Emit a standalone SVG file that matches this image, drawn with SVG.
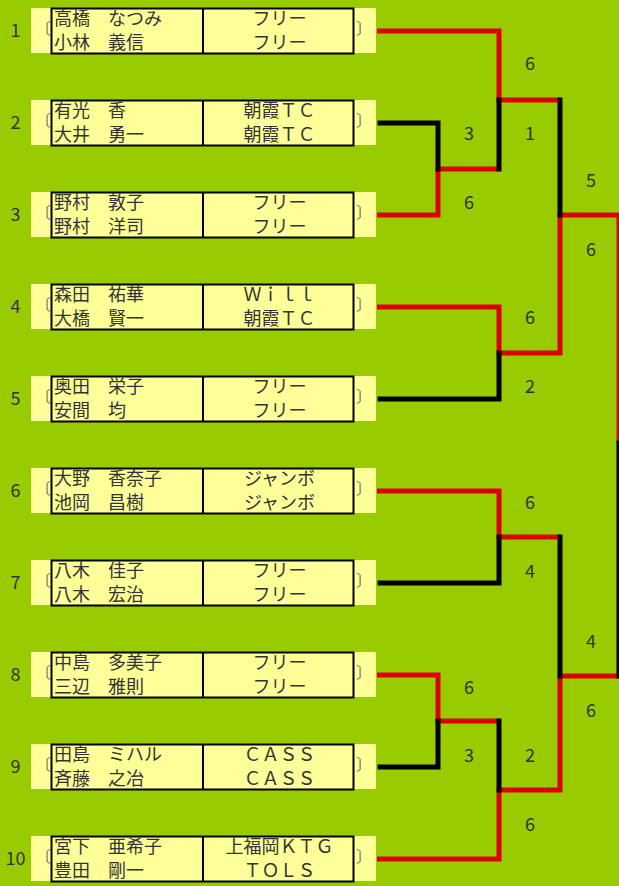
<svg xmlns="http://www.w3.org/2000/svg" width="619" height="886" viewBox="0 0 619 886">
<style>
.bg{fill:#99CC00}
.cell{fill:#FFFF99}
.box{fill:none;stroke:#000;stroke-width:2}
.div{stroke:#000;stroke-width:2}
.t{font-family:"Noto Sans CJK JP","Noto Sans",sans-serif;font-size:18px;fill:#333}
.c{text-anchor:middle}
.br{font-family:"Noto Sans CJK JP",sans-serif;font-size:16px;fill:#777}
.r{fill:none;stroke:#DD0000;stroke-width:5}
.k{fill:none;stroke:#000;stroke-width:5;stroke-linecap:square}
.s{font-family:"Noto Sans CJK JP","Noto Sans",sans-serif;font-size:18px;fill:#333;text-anchor:middle}
</style>
<defs>
<g id="frame">
<rect class="cell" x="31" y="0" width="345" height="45"/>
<rect class="box" x="51.5" y="0.5" width="302" height="45"/>
<line class="div" x1="203" y1="0" x2="203" y2="46"/>
<text class="br" x="35" y="26">〔</text>
<text class="br" x="356" y="26">〕</text>
</g>
</defs>
<rect class="bg" x="0" y="0" width="619" height="886"/>
<g id="connectors">
<path class="r" d="M377,31 H499 V100 H560"/>
<path class="r" d="M377,215 H438 V169 H499"/>
<path class="r" d="M377,307 H499 V353 H560 V215 H619 V443"/>
<path class="r" d="M377,491 H499 V537 H560"/>
<path class="r" d="M377,675 H438 V721 H499"/>
<path class="r" d="M377,859 H499 V790 H560 V676 H619"/>
<path class="k" d="M380,123 H438 V169"/>
<path class="k" d="M499,100 V169"/>
<path class="k" d="M560,100 V215"/>
<path class="k" d="M380,399 H499 V353"/>
<path class="k" d="M380,583 H499 V537"/>
<path class="k" d="M380,767 H438 V721"/>
<path class="k" d="M499,721 V790"/>
<path class="k" d="M560,537 V676"/>
<path class="k" d="M619,443 V676"/>
</g>
<g id="scores">
<text class="s" x="530" y="69.5">6</text>
<text class="s" x="469" y="139.5">3</text>
<text class="s" x="530" y="139.5">1</text>
<text class="s" x="469" y="209">6</text>
<text class="s" x="591" y="186.5">5</text>
<text class="s" x="591" y="255.5">6</text>
<text class="s" x="530" y="323.5">6</text>
<text class="s" x="530" y="392.5">2</text>
<text class="s" x="530" y="508.5">6</text>
<text class="s" x="530" y="577.5">4</text>
<text class="s" x="591" y="647.5">4</text>
<text class="s" x="591" y="716.5">6</text>
<text class="s" x="469" y="693.5">6</text>
<text class="s" x="469" y="761.5">3</text>
<text class="s" x="530" y="761.5">2</text>
<text class="s" x="530" y="830.5">6</text>
</g>
<g id="p1" transform="translate(0,8)">
<use href="#frame"/>
<text class="t c" x="15.5" y="28.5">1</text>
<text class="t" x="54" y="17">高橋　なつみ</text><text class="t" x="54" y="41">小林　義信</text>
<text class="t c" x="279.5" y="17">フリー</text><text class="t c" x="279.5" y="41">フリー</text>
</g>
<g id="p2" transform="translate(0,100)">
<use href="#frame"/>
<text class="t c" x="15.5" y="28.5">2</text>
<text class="t" x="54" y="17">有光　香</text><text class="t" x="54" y="41">大井　勇一</text>
<text class="t c" x="279.5" y="17">朝霞ＴＣ</text><text class="t c" x="279.5" y="41">朝霞ＴＣ</text>
</g>
<g id="p3" transform="translate(0,192)">
<use href="#frame"/>
<text class="t c" x="15.5" y="28.5">3</text>
<text class="t" x="54" y="17">野村　敦子</text><text class="t" x="54" y="41">野村　洋司</text>
<text class="t c" x="279.5" y="17">フリー</text><text class="t c" x="279.5" y="41">フリー</text>
</g>
<g id="p4" transform="translate(0,284)">
<use href="#frame"/>
<text class="t c" x="15.5" y="28.5">4</text>
<text class="t" x="54" y="17">森田　祐華</text><text class="t" x="54" y="41">大橋　賢一</text>
<text class="t c" x="279.5" y="17">Ｗｉｌｌ</text><text class="t c" x="279.5" y="41">朝霞ＴＣ</text>
</g>
<g id="p5" transform="translate(0,376)">
<use href="#frame"/>
<text class="t c" x="15.5" y="28.5">5</text>
<text class="t" x="54" y="17">奥田　栄子</text><text class="t" x="54" y="41">安間　均</text>
<text class="t c" x="279.5" y="17">フリー</text><text class="t c" x="279.5" y="41">フリー</text>
</g>
<g id="p6" transform="translate(0,468)">
<use href="#frame"/>
<text class="t c" x="15.5" y="28.5">6</text>
<text class="t" x="54" y="17">大野　香奈子</text><text class="t" x="54" y="41">池岡　昌樹</text>
<text class="t c" x="279.5" y="17">ジャンボ</text><text class="t c" x="279.5" y="41">ジャンボ</text>
</g>
<g id="p7" transform="translate(0,560)">
<use href="#frame"/>
<text class="t c" x="15.5" y="28.5">7</text>
<text class="t" x="54" y="17">八木　佳子</text><text class="t" x="54" y="41">八木　宏治</text>
<text class="t c" x="279.5" y="17">フリー</text><text class="t c" x="279.5" y="41">フリー</text>
</g>
<g id="p8" transform="translate(0,652)">
<use href="#frame"/>
<text class="t c" x="15.5" y="28.5">8</text>
<text class="t" x="54" y="17">中島　多美子</text><text class="t" x="54" y="41">三辺　雅則</text>
<text class="t c" x="279.5" y="17">フリー</text><text class="t c" x="279.5" y="41">フリー</text>
</g>
<g id="p9" transform="translate(0,744)">
<use href="#frame"/>
<text class="t c" x="15.5" y="28.5">9</text>
<text class="t" x="54" y="17">田島　ミハル</text><text class="t" x="54" y="41">斉藤　之冶</text>
<text class="t c" x="279.5" y="17">ＣＡＳＳ</text><text class="t c" x="279.5" y="41">ＣＡＳＳ</text>
</g>
<g id="p10" transform="translate(0,836)">
<use href="#frame"/>
<text class="t c" x="15.5" y="28.5">10</text>
<text class="t" x="54" y="17">宮下　亜希子</text><text class="t" x="54" y="41">豊田　剛一</text>
<text class="t c" x="279.5" y="17">上福岡ＫＴＧ</text><text class="t c" x="279.5" y="41">ＴＯＬＳ</text>
</g>
</svg>
